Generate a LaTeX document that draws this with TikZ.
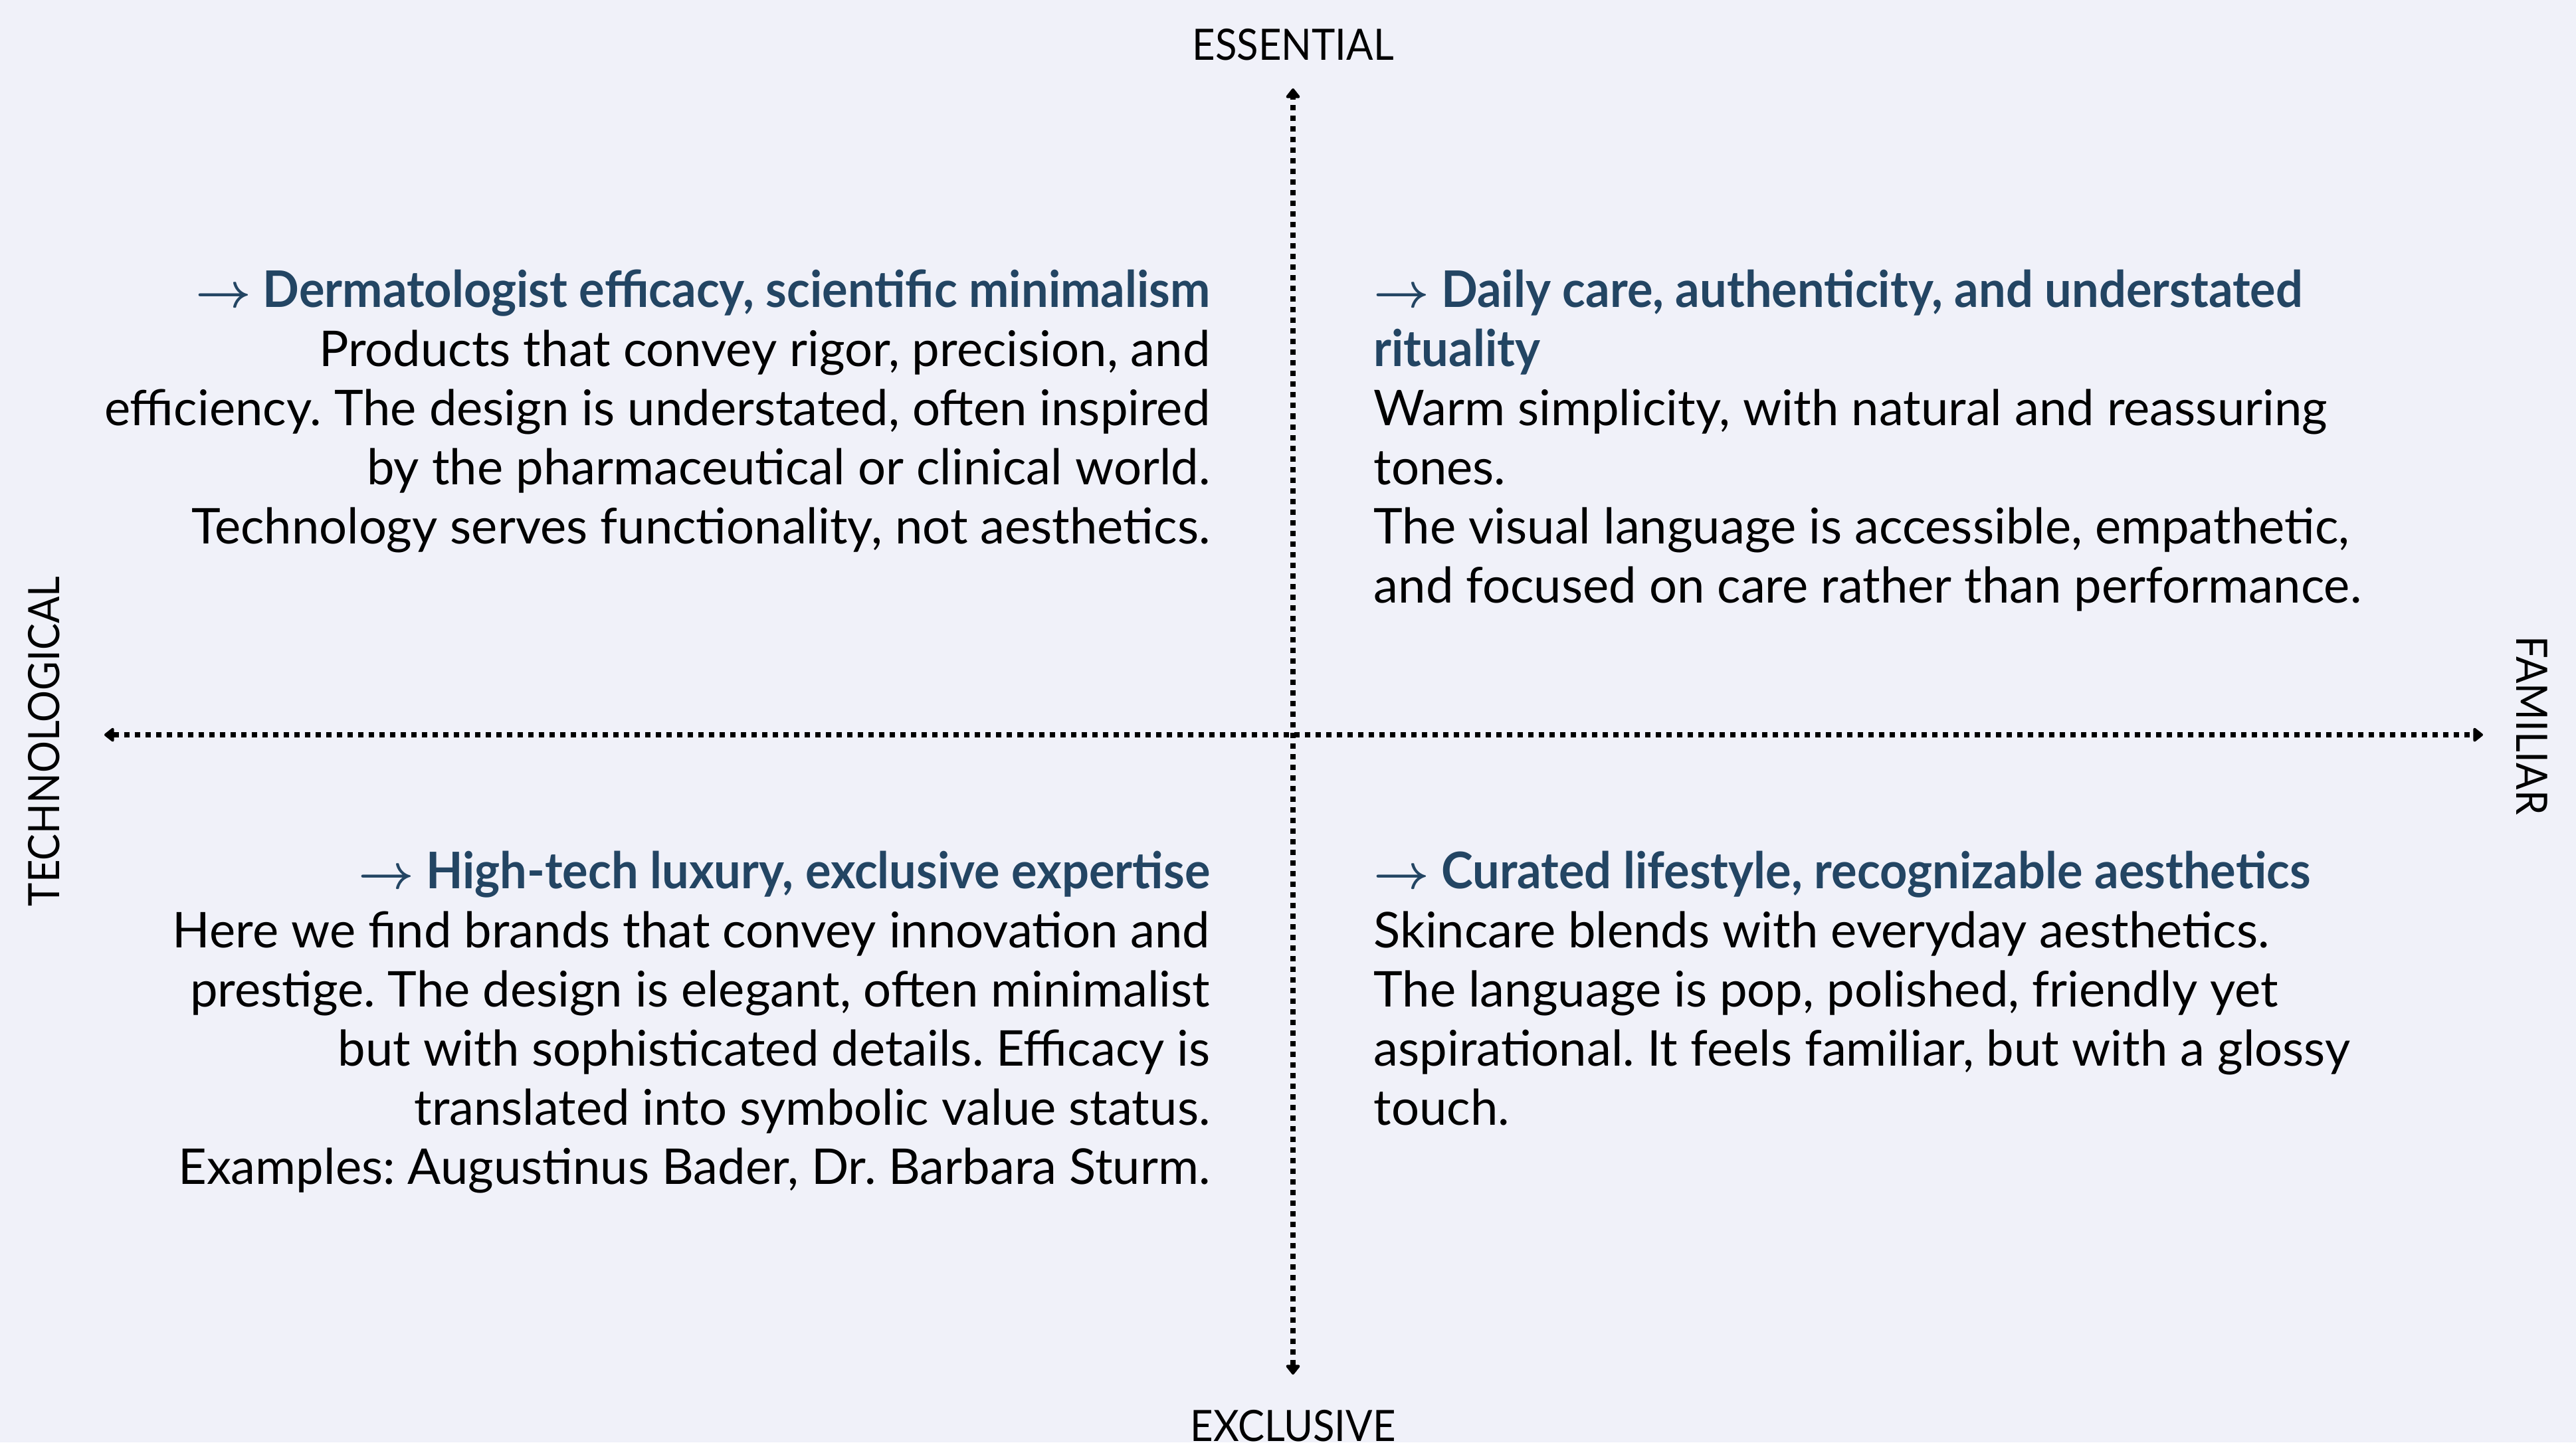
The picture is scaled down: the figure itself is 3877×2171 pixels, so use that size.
\documentclass[tikz,border=0pt]{standalone}
\usepackage{fontspec}
\setmainfont{Lato}
\newfontfamily\headfont{Lato}[FakeStretch=0.95]
\newfontfamily\axisfont{Lato}[FakeStretch=0.92]
\usetikzlibrary{arrows.meta}
\usetikzlibrary{positioning}

\definecolor{paper}{RGB}{240,241,249}
\definecolor{headblue}{RGB}{35,69,99}

\newcommand{\quadhead}[1]{{\color{headblue}\headfont\bfseries\boldmath\fontsize{21.6}{25.3}\selectfont #1}}

\frenchspacing

\begin{document}
\begin{tikzpicture}
    [x=0.01cm,y=-0.01cm,
    axis/.style={draw=black,line width=0.08cm,dash pattern=on 0.08cm off 0.08cm,
      {Triangle[round,length=0.16cm,width=0.24cm]}-{Triangle[round,length=0.16cm,width=0.24cm]}},
    axis label/.style={inner sep=0pt,font=\axisfont\fontsize{18.5}{22}\selectfont},
    quadrant/.style={inner sep=0pt,font=\fontsize{21.1}{25.3}\selectfont}]

    \fill[paper] (0,0) rectangle (3877,2171);
    \useasboundingbox (0,0) rectangle (3877,2171);

    % ends of the two axes
    \coordinate (north end) at (1946,133);
    \coordinate (south end) at (1946,2069);
    \coordinate (west end)  at (157,1106);
    \coordinate (east end)  at (3737,1106);

    \draw[axis] (south end) -- (north end);
    \draw[axis] (west end) -- (east end);

    \node[axis label] (essential) [above=0.41cm of north end] {ESSENTIAL};
    \node[axis label] (exclusive) [below=0.53cm of south end] {EXCLUSIVE};
    \node[axis label,rotate=90,anchor=base]  (technological) at (90,1116)   {TECHNOLOGICAL};
    \node[axis label,rotate=-90,anchor=base] (familiar)      at (3787,1092) {FAMILIAR};

    % the four quadrants (base = baseline of the last line)
    \node[quadrant,align=right,anchor=base east] (scientific) at (1822,818)
      {\quadhead{$\rightarrow$ Dermatologist efficacy, scientific minimalism}\\
       Products that convey rigor, precision, and\\
       efficiency. The design is understated, often inspired\\
       by the pharmaceutical or clinical world.\\
       Technology serves functionality, not aesthetics.};

    \node[quadrant,align=left,anchor=base west] (daily care) at (2067,907)
      {\quadhead{$\rightarrow$ Daily care, authenticity, and understated}\\
       \quadhead{rituality}\\
       Warm simplicity, with natural and reassuring\\
       tones.\\
       The visual language is accessible, empathetic,\\
       and focused on care rather than performance.};

    \node[quadrant,align=right,anchor=base east] (high tech) at (1822,1782)
      {\quadhead{$\rightarrow$ High-tech luxury, exclusive expertise}\\
       Here we find brands that convey innovation and\\
       prestige. The design is elegant, often minimalist\\
       but with sophisticated details. Efficacy is\\
       translated into symbolic value status.\\
       Examples: Augustinus Bader, Dr. Barbara Sturm.};

    \node[quadrant,align=left,anchor=base west] (curated) at (2067,1693)
      {\quadhead{$\rightarrow$ Curated lifestyle, recognizable aesthetics}\\
       Skincare blends with everyday aesthetics.\\
       The language is pop, polished, friendly yet\\
       aspirational. It feels familiar, but with a glossy\\
       touch.};

  \end{tikzpicture}
\end{document}
